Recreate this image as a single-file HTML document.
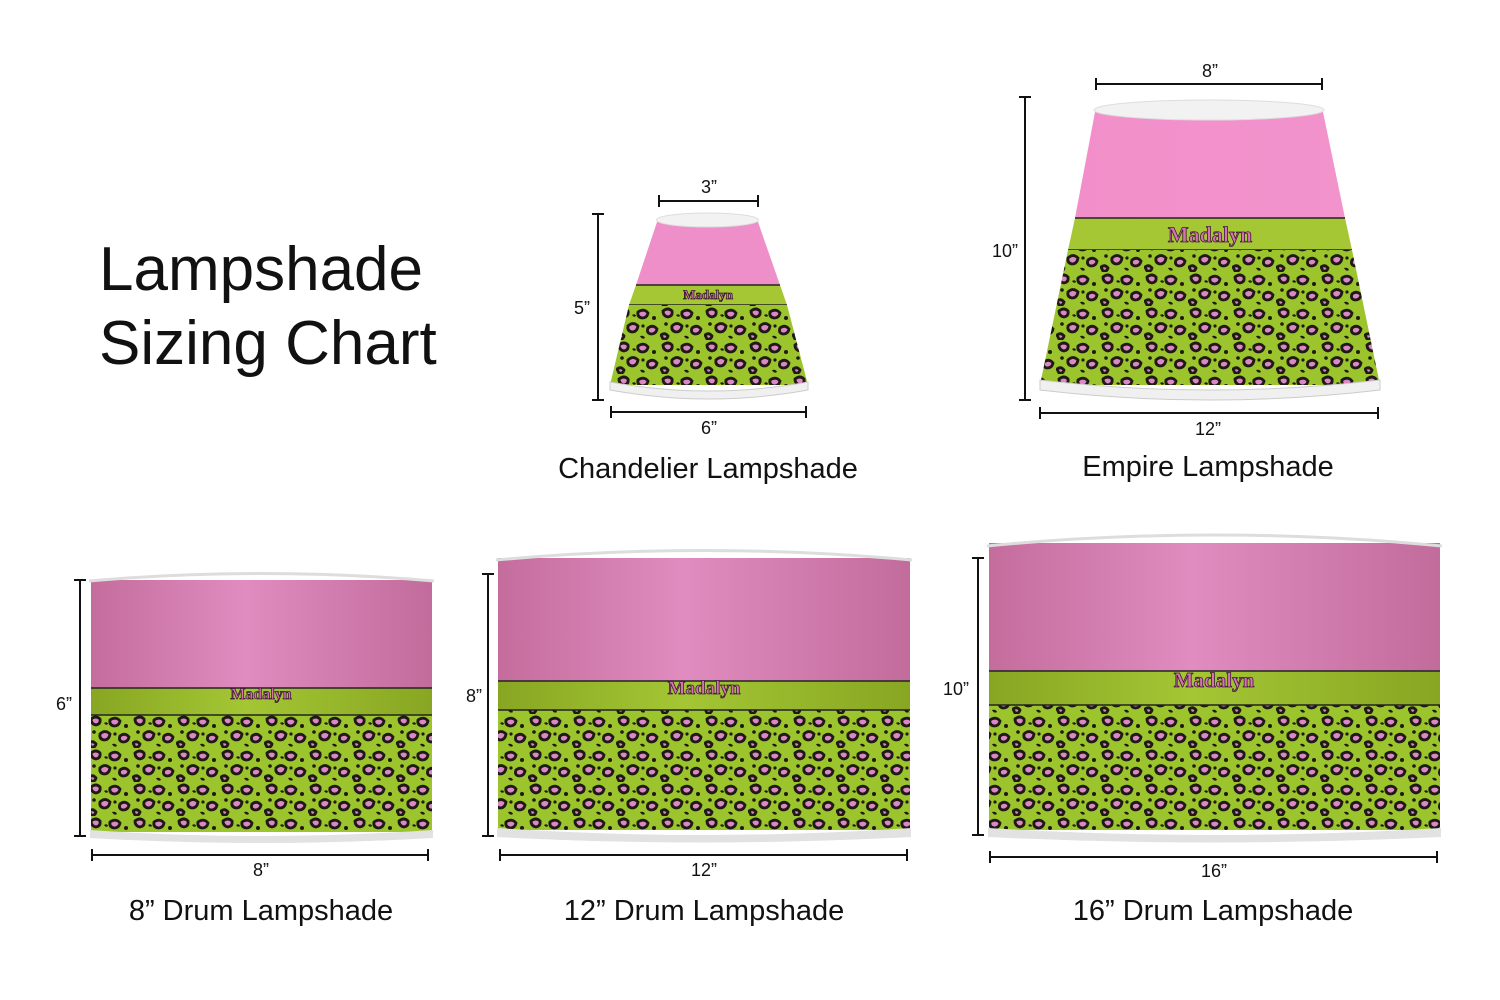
<!DOCTYPE html>
<html><head><meta charset="utf-8"><style>
html,body{margin:0;padding:0;background:#fff;}
svg{display:block}
text{font-family:"Liberation Sans",sans-serif;fill:#111}
.m{font-family:"Liberation Serif",serif;font-weight:bold;fill:#d873b3;stroke:#3a1a30;stroke-width:0.8}
</style></head><body>
<svg width="1500" height="1000" viewBox="0 0 1500 1000" xmlns="http://www.w3.org/2000/svg">
<defs>
<pattern id="leo" width="44" height="34" patternUnits="userSpaceOnUse">
<rect width="44" height="34" fill="#9cc42c"/>
<g fill="#df86c6" stroke="#1e1a14" stroke-width="2.8">
<path d="M3,5 Q8,1 12,5 Q13,10 8,11 Q3,10 3,5Z"/>
<path d="M22,6 Q28,2 32,7 Q31,12 26,12 Q21,11 22,6Z"/>
<path d="M12,20 Q17,15 22,20 Q21,26 16,26 Q11,25 12,20Z"/>
<path d="M32,22 Q37,18 41,23 Q40,28 35,28 Q30,27 32,22Z"/>
<path d="M1,29 Q5,26 8,30 Q7,34 3,33Z"/>
</g>
<g fill="#1e1a14">
<path d="M16,9 q3,-2 4,1 q-2,2 -4,-1Z"/><circle cx="38" cy="12" r="2"/><circle cx="27" cy="20" r="1.6"/><path d="M24,30 q4,-1 5,2 q-3,2 -5,-2Z"/><circle cx="6" cy="18" r="1.8"/>
</g>
</pattern>
<linearGradient id="pk" x1="0" x2="1"><stop offset="0" stop-color="#c46d9d"/><stop offset="0.45" stop-color="#e08cc0"/><stop offset="1" stop-color="#c26c9c"/></linearGradient>
<linearGradient id="gr" x1="0" x2="1"><stop offset="0" stop-color="#88a622"/><stop offset="0.45" stop-color="#a4c634"/><stop offset="1" stop-color="#88a622"/></linearGradient>
<linearGradient id="pk2" x1="0" x2="1"><stop offset="0" stop-color="#f28fca"/><stop offset="1" stop-color="#f293cc"/></linearGradient>
</defs>

<text x="99" y="290" font-size="62">Lampshade</text>
<text x="99" y="364" font-size="62">Sizing Chart</text>

<!-- Chandelier -->
<polygon points="657,222 758,222 780,285 636,285" fill="#ef8fc9"/>
<polygon points="636,285 780,285 787,305 629,305" fill="#a6c734"/>
<line x1="636" y1="285" x2="780" y2="285" stroke="#222" stroke-width="1.5"/>
<line x1="629" y1="305" x2="787" y2="305" stroke="#222" stroke-width="1.5"/>
<polygon points="629,305 787,305 808,385 610,385" fill="url(#leo)"/>
<ellipse cx="707.5" cy="220" rx="51" ry="7" fill="#f2f2f2" stroke="#ddd"/>
<path d="M610,382 Q709,400 808,382 L808,390 Q709,408 610,390Z" fill="#f0f0f0" stroke="#ccc"/>
<text x="708" y="299" font-size="13" text-anchor="middle" class="m">Madalyn</text>
<g stroke="#111" stroke-width="2" fill="none">
<path d="M659,201H758M659,195V207M758,195V207"/>
<path d="M598,214V400M592,214H604M592,400H604"/>
<path d="M611,412H806M611,406V418M806,406V418"/>
</g>
<text x="709" y="193" font-size="18" text-anchor="middle">3”</text>
<text x="582" y="314" font-size="18" text-anchor="middle">5”</text>
<text x="709" y="434" font-size="18" text-anchor="middle">6”</text>
<text x="708" y="478" font-size="29" text-anchor="middle">Chandelier Lampshade</text>

<!-- Empire -->
<polygon points="1095,112 1323,112 1345,218 1075,218" fill="url(#pk2)"/>
<polygon points="1075,218 1345,218 1352,250 1068,250" fill="#a6c734"/>
<line x1="1075" y1="218" x2="1345" y2="218" stroke="#222" stroke-width="1.5"/>
<line x1="1068" y1="250" x2="1352" y2="250" stroke="#222" stroke-width="1.5"/>
<polygon points="1068,250 1352,250 1380,385 1040,385" fill="url(#leo)"/>
<ellipse cx="1209" cy="110" rx="115" ry="10" fill="#f2f2f2" stroke="#ddd"/>
<path d="M1040,380 Q1210,400 1380,380 L1380,390 Q1210,410 1040,390Z" fill="#f0f0f0" stroke="#ccc"/>
<text x="1210" y="242" font-size="22" text-anchor="middle" class="m">Madalyn</text>
<g stroke="#111" stroke-width="2" fill="none">
<path d="M1096,84H1322M1096,78V90M1322,78V90"/>
<path d="M1025,97V400M1019,97H1031M1019,400H1031"/>
<path d="M1040,413H1378M1040,407V419M1378,407V419"/>
</g>
<text x="1210" y="77" font-size="18" text-anchor="middle">8”</text>
<text x="1005" y="257" font-size="18" text-anchor="middle">10”</text>
<text x="1208" y="435" font-size="18" text-anchor="middle">12”</text>
<text x="1208" y="476" font-size="29" text-anchor="middle">Empire Lampshade</text>

<!-- 8 drum -->
<rect x="91" y="580" width="341" height="108" fill="url(#pk)"/>
<rect x="91" y="688" width="341" height="27" fill="url(#gr)"/>
<rect x="91" y="715" width="341" height="117" fill="url(#leo)"/>
<line x1="91" y1="688" x2="432" y2="688" stroke="#222" stroke-width="1.5"/>
<line x1="91" y1="715" x2="432" y2="715" stroke="#222" stroke-width="1.5"/>
<path d="M89,581 Q261,566 434,581" fill="none" stroke="#ddd" stroke-width="3"/>
<path d="M90,830 Q261,842 433,830 L433,838 Q261,848 90,838Z" fill="#e2e2e2"/>
<text x="261" y="699" font-size="16" text-anchor="middle" class="m">Madalyn</text>
<g stroke="#111" stroke-width="2" fill="none">
<path d="M80,580V836M74,580H86M74,836H86"/>
<path d="M92,855H428M92,849V861M428,849V861"/>
</g>
<text x="64" y="710" font-size="18" text-anchor="middle">6”</text>
<text x="261" y="876" font-size="18" text-anchor="middle">8”</text>
<text x="261" y="920" font-size="29" text-anchor="middle">8” Drum Lampshade</text>

<!-- 12 drum -->
<rect x="498" y="558" width="412" height="123" fill="url(#pk)"/>
<rect x="498" y="681" width="412" height="29" fill="url(#gr)"/>
<rect x="498" y="710" width="412" height="120" fill="url(#leo)"/>
<line x1="498" y1="681" x2="910" y2="681" stroke="#222" stroke-width="1.5"/>
<line x1="498" y1="710" x2="910" y2="710" stroke="#222" stroke-width="1.5"/>
<path d="M496,560 Q704,541 912,560" fill="none" stroke="#ddd" stroke-width="3"/>
<path d="M497,828 Q704,842 911,828 L911,837 Q704,848 497,837Z" fill="#e2e2e2"/>
<text x="704" y="694" font-size="19" text-anchor="middle" class="m">Madalyn</text>
<g stroke="#111" stroke-width="2" fill="none">
<path d="M488,574V836M482,574H494M482,836H494"/>
<path d="M500,855H907M500,849V861M907,849V861"/>
</g>
<text x="474" y="702" font-size="18" text-anchor="middle">8”</text>
<text x="704" y="876" font-size="18" text-anchor="middle">12”</text>
<text x="704" y="920" font-size="29" text-anchor="middle">12” Drum Lampshade</text>

<!-- 16 drum -->
<rect x="989" y="543" width="451" height="128" fill="url(#pk)"/>
<rect x="989" y="671" width="451" height="34" fill="url(#gr)"/>
<rect x="989" y="705" width="451" height="125" fill="url(#leo)"/>
<line x1="989" y1="671" x2="1440" y2="671" stroke="#222" stroke-width="1.5"/>
<line x1="989" y1="705" x2="1440" y2="705" stroke="#222" stroke-width="1.5"/>
<path d="M987,546 Q1214,524 1442,546" fill="none" stroke="#ddd" stroke-width="3"/>
<path d="M988,828 Q1214,842 1441,828 L1441,837 Q1214,848 988,837Z" fill="#e2e2e2"/>
<text x="1214" y="687" font-size="21" text-anchor="middle" class="m">Madalyn</text>
<g stroke="#111" stroke-width="2" fill="none">
<path d="M978,558V835M972,558H984M972,835H984"/>
<path d="M990,857H1437M990,851V863M1437,851V863"/>
</g>
<text x="956" y="695" font-size="18" text-anchor="middle">10”</text>
<text x="1214" y="877" font-size="18" text-anchor="middle">16”</text>
<text x="1213" y="920" font-size="29" text-anchor="middle">16” Drum Lampshade</text>
</svg>
</body></html>
